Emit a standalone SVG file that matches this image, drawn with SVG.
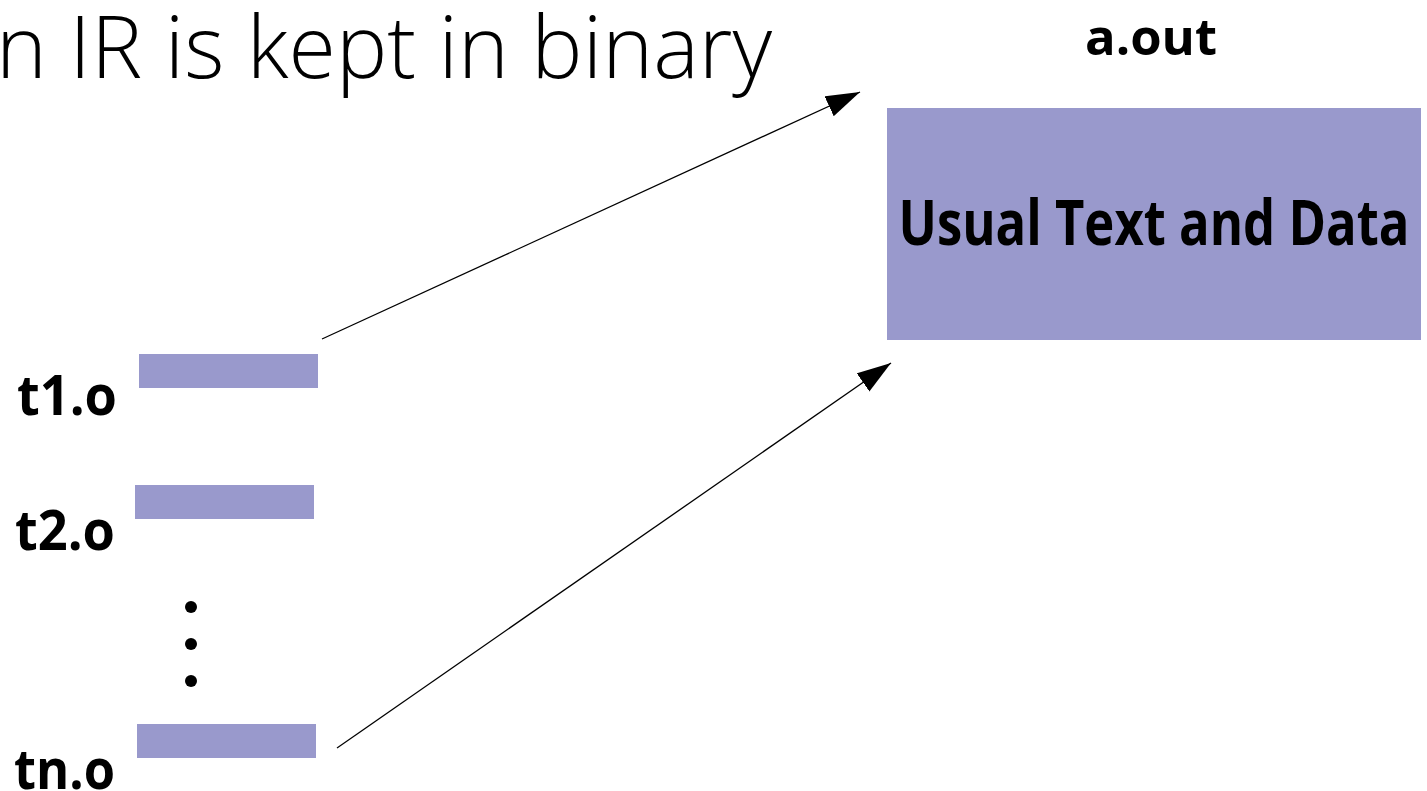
<svg xmlns="http://www.w3.org/2000/svg" width="1427" height="791" viewBox="0 0 1427 791">
<style>
.bar{fill:#9999cc}
.lbl{font-family:"Open Sans","Liberation Sans",sans-serif;font-weight:bold;fill:#000}
.title{font-family:"Open Sans","Liberation Sans",sans-serif;font-weight:300;fill:#000}
.conn{stroke:#000;stroke-width:1.3;fill:none;marker-end:url(#ah)}
</style>
<defs>
<marker id="ah" markerUnits="userSpaceOnUse" markerWidth="36" markerHeight="24" refX="34" refY="11" orient="auto">
<path d="M0,0 L34,11 L0,22 z" fill="#000"/>
</marker>
</defs>
<rect width="1427" height="791" fill="#fff"/>
<text class="title" x="-4" y="78" font-size="86" textLength="776" lengthAdjust="spacingAndGlyphs">n IR is kept in binary</text>
<g id="aout">
<text class="lbl" x="1151" y="55" font-size="50" text-anchor="middle" textLength="132" lengthAdjust="spacingAndGlyphs">a.out</text>
<rect class="bar" x="887" y="108" width="534" height="232"/>
<text class="lbl" x="1154" y="245" font-size="62" text-anchor="middle" textLength="511" lengthAdjust="spacingAndGlyphs">Usual Text and Data</text>
</g>
<g id="t1">
<rect class="bar" x="139" y="354" width="179" height="34"/>
<text class="lbl" x="17" y="415" font-size="56" textLength="100" lengthAdjust="spacingAndGlyphs">t1.o</text>
</g>
<g id="t2">
<rect class="bar" x="135" y="485" width="179" height="34"/>
<text class="lbl" x="15" y="550" font-size="56" textLength="100" lengthAdjust="spacingAndGlyphs">t2.o</text>
</g>
<g id="dots">
<circle cx="191" cy="607" r="6"/>
<circle cx="191" cy="644" r="6"/>
<circle cx="191" cy="681" r="6"/>
</g>
<g id="tn">
<rect class="bar" x="137" y="724" width="179" height="34"/>
<text class="lbl" x="14" y="789" font-size="56" textLength="101" lengthAdjust="spacingAndGlyphs">tn.o</text>
</g>
<g id="connectors">
<line class="conn" x1="322" y1="339" x2="860" y2="92"/>
<line class="conn" x1="337" y1="748" x2="891" y2="363"/>
</g>
</svg>
